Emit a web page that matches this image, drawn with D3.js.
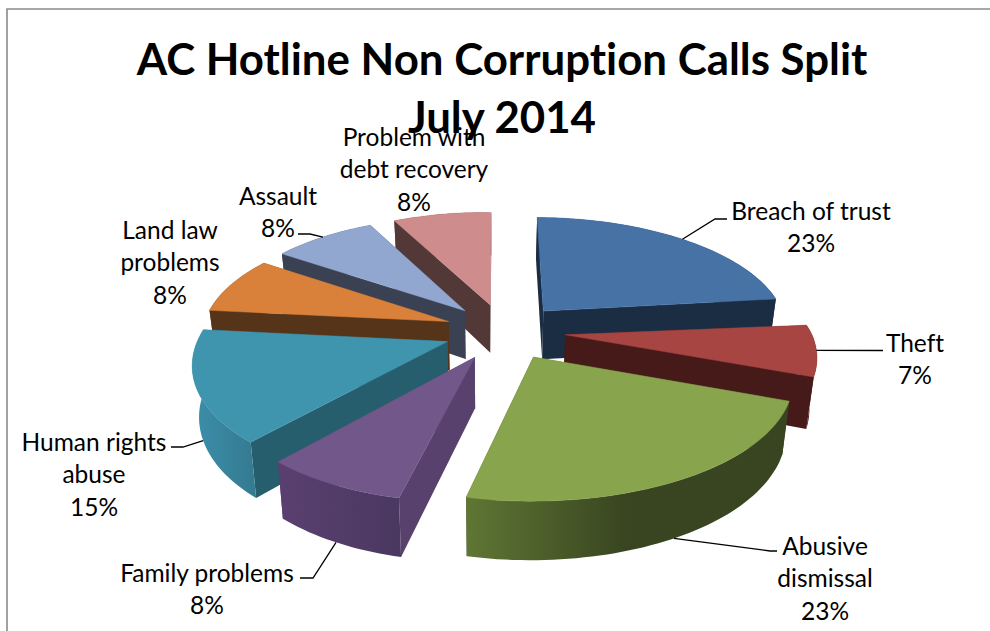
<!DOCTYPE html>
<html>
<head>
<meta charset="utf-8">
<script src="https://cdn.jsdelivr.net/npm/d3@7"></script>
<style>
html,body{margin:0;padding:0;background:#fff}
svg{display:block}
text{font-family:Lato,"Open Sans",sans-serif;fill:#000;font-variant-ligatures:none}
</style>
</head>
<body>
<svg id="c" width="990" height="631"></svg>
<script>
// ---- data ----
const titleLines = ["AC Hotline Non Corruption Calls Split", "July 2014"];
const categories = ["Breach of trust","Theft","Abusive dismissal","Family problems","Human rights abuse","Land law problems","Assault","Problem with debt recovery"];
const values = [23,7,23,8,15,8,8,8];

// ---- styles ----
const topColors    = ["#4672a6","#a64542","#88a44d","#71578a","#4095ae","#d9813a","#92a7cf","#ce8d8c"];
const radialColors = ["#1b2d43","#461a19","#384520","#58426d","#265e6d","#56341a","#3a4152","#533838"];
// outer wall colours, from the first angle of the slice to the last
const outerColors  = [["#1b2d43","#1b2d43"],["#461a19","#461a19"],["#384520","#384520","#5f7634"],["#4a3860","#5a4070"],["#357c92","#3a8ba6"],["#56341a","#56341a"],["#3a4152","#3a4152"],["#533838","#533838"]];

// ---- layout of labels and leader lines ----
const labelLines = [["Breach of trust","23%"],["Theft","7%"],["Abusive","dismissal","23%"],["Family problems","8%"],["Human rights","abuse","15%"],["Land law","problems","8%"],["Assault","8%"],["Problem with","debt recovery","8%"]];
const labelAnchors = [[811,219.5],[915,351.5],[825,554.5],[207,581.5],[94,450.5],[170,238.5],[278,204.5],[414,145.5]];
const leaderLevels = ["top","top","bottom","bottom","bottom",null,"top",null];
const leaderElbows = [[[715,219],[727,219]],[[883,350.5]],[[770,551],[777,551]],[[313,578],[300,578]],[[183,447],[171,447]],null,[[310,234],[298,234]],null];

// ---- projection ----
const W=990,H=631;
const R=245, E=60, D=1812, vpX=490, horizonY=-535, centreY=331, centreXOff=15;
function project(X,Y,level){
  const s=1/(1-Y/D);
  const front=Y>-40;
  let shift=-0.08*Math.max(Y,0)*(1-0.8*Math.max(X,0)/300);
  if(front) shift+=0.01*Math.max(X,0);
  if(Y<0 && X<0) shift+=0.025*(-Y)*Math.min(1,-X/100);
  let x=vpX+(centreXOff+X)*s+shift;
  let y=horizonY+(centreY-horizonY)*s+(X<0||front?0.018:0.004)*X+0.02*Math.max(-Y,0);
  if(level==="bottom"){ x=vpX+(x-vpX)*0.977; y=horizonY+(y-horizonY)*1.057; }
  return [x,y];
}
const svg=d3.select("#c");
const line=d3.line();
const defs=svg.append("defs");
const slices=d3.pie().sort(null).value(d=>d)(values).map((d,i)=>{
  const mid=(d.startAngle+d.endAngle)/2;
  return {i,a0:d.startAngle,a1:d.endAngle,mid,ox:E*Math.sin(mid),oy:-E*Math.cos(mid)};
});
const ground=(sl,a,r)=>[sl.ox+r*Math.sin(a),sl.oy-r*Math.cos(a)];

// frame
svg.append("path").attr("d",line([[7,631],[7,9],[990,9]])).attr("fill","none").attr("stroke","#8a8a8a").attr("stroke-width",1.6);

const order=slices.slice().sort((p,q)=>q.oy<p.oy?1:-1);
order.forEach(sl=>{
  const g=svg.append("g");
  const apex=ground(sl,0,0);
  const n=Math.max(8,Math.round((sl.a1-sl.a0)*180/Math.PI/1.5));
  const angles=d3.range(n+1).map(k=>sl.a0+(sl.a1-sl.a0)*k/n);
  const colors=outerColors[sl.i];
  const topArc=angles.map(a=>project(...ground(sl,a,R),"top"));
  const botArc=angles.map(a=>project(...ground(sl,a,R),"bottom"));
  const grad=defs.append("linearGradient").attr("id","o"+sl.i).attr("gradientUnits","userSpaceOnUse")
    .attr("x1",topArc[0][0]).attr("x2",topArc[n][0]).attr("y1",0).attr("y2",0);
  colors.forEach((c,k)=>grad.append("stop").attr("offset",k/(colors.length-1)).attr("stop-color",c));

  const walls=[];
  [sl.a0,sl.a1].forEach(a=>{
    const p=ground(sl,a,R);
    walls.push({depth:(p[1]+apex[1])/2,fill:radialColors[sl.i],
      pts:[project(...apex,"top"),project(...p,"top"),project(...p,"bottom"),project(...apex,"bottom")]});
  });
  const midP=ground(sl,sl.mid,R);
  walls.push({depth:midP[1],fill:"url(#o"+sl.i+")",pts:topArc.concat(botArc.slice().reverse())});
  walls.sort((u,v)=>u.depth-v.depth).forEach(w=>{
    g.append("path").attr("d",line(w.pts)+"Z").attr("fill",w.fill);
  });
  const topPts=[project(...apex,"top")].concat(topArc);
  g.append("path").attr("d",line(topPts)+"Z").attr("fill",topColors[sl.i]).attr("stroke",topColors[sl.i]).attr("stroke-width",.5);
});

// leaders
slices.forEach(sl=>{
  const elbow=leaderElbows[sl.i]; if(!elbow) return;
  const start=project(...ground(sl,sl.mid,R),leaderLevels[sl.i]);
  svg.append("path").attr("d",line([start].concat(elbow))).attr("fill","none").attr("stroke","#000").attr("stroke-width",1.3);
});

// labels
categories.forEach((c,i)=>{
  labelLines[i].forEach((t,k)=>{
    svg.append("text").attr("x",labelAnchors[i][0]).attr("y",labelAnchors[i][1]+k*32.5)
      .attr("text-anchor","middle").attr("font-size",24.5).text(t);
  });
});
// title
titleLines.forEach((t,k)=>{
  svg.append("text").attr("x",502).attr("y",75+k*58).attr("text-anchor","middle")
    .attr("font-size",43.8).attr("font-weight",700).text(t);
});
</script>
</body>
</html>
